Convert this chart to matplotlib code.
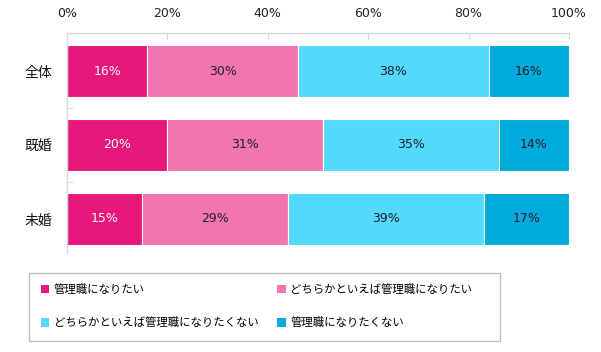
import matplotlib
matplotlib.use("Agg")
import matplotlib.pyplot as plt
from matplotlib.patches import Patch, Rectangle
import numpy as np

plt.rcParams['font.family'] = ['DejaVu Sans', 'Noto Sans CJK JP']

categories = ["全体", "既婚", "未婚"]
series_names = ["管理職になりたい", "どちらかといえば管理職になりたい",
                "どちらかといえば管理職になりたくない", "管理職になりたくない"]
values = {
    "管理職になりたい": [16, 20, 15],
    "どちらかといえば管理職になりたい": [30, 31, 29],
    "どちらかといえば管理職になりたくない": [38, 35, 39],
    "管理職になりたくない": [16, 14, 17],
}
colors = ["#E8177A", "#F175AE", "#53D9FC", "#00AADA"]
label_colors = ["white", "#1E1E30", "#1E1E30", "#1E1E30"]
xticks = [0, 20, 40, 60, 80, 100]
xtick_labels = ["0%", "20%", "40%", "60%", "80%", "100%"]

fig = plt.figure(figsize=(6.01, 3.52), dpi=100)
ax = fig.add_axes([67/601, 1-253/352, (569-67)/601, (253-33)/352])

y = np.arange(len(categories))
left = np.zeros(len(categories))
handles = []
for name, col, lc in zip(series_names, colors, label_colors):
    vals = np.array(values[name], dtype=float)
    bars = ax.barh(y, vals, left=left, height=0.70, color=col,
                   edgecolor="white", linewidth=0.8, zorder=2)
    for b, v in zip(bars, vals):
        ax.text(b.get_x() + b.get_width()/2, b.get_y() + b.get_height()/2,
                f"{int(v)}%", ha="center", va="center", fontsize=9, color=lc, zorder=3)
    left += vals
    handles.append(Patch(facecolor=col, edgecolor="none", label=name))

ax.set_xlim(0, 100)
ax.set_ylim(2.46, -0.514)
ax.xaxis.tick_top()
ax.set_xticks(xticks)
ax.set_xticklabels(xtick_labels, fontsize=9, color="#222222")
ax.tick_params(axis="x", direction="in", length=4, color="#D9D9D9", pad=9.5)
ax.set_yticks(y)
ax.set_yticklabels(categories, fontsize=10, color="#111111")
ax.tick_params(axis="y", which="major", length=0, pad=10.5)
ax.set_yticks([0.5, 1.5], minor=True)
ax.tick_params(axis="y", which="minor", direction="in", length=5, color="#D9D9D9")

for s in ["right", "bottom"]:
    ax.spines[s].set_visible(False)
for s in ["top", "left"]:
    ax.spines[s].set_color("#D9D9D9")
    ax.spines[s].set_linewidth(1)

# legend frame
fig.patches.append(Rectangle((29/601, 1-341/352), (500-29)/601, (341-273)/352,
                             transform=fig.transFigure, facecolor="white",
                             edgecolor="#BFBFBF", linewidth=1))
order = [0, 2, 1, 3]
leg = fig.legend(handles=[handles[i] for i in order], loc="upper left",
                 bbox_to_anchor=(35/601, 1-278/352), ncol=2, frameon=False,
                 fontsize=8.2, handlelength=0.75, handleheight=0.75, handletextpad=0.4,
                 columnspacing=1.65, labelspacing=2.0, borderpad=0)

fig.savefig("out.png", dpi=100)
